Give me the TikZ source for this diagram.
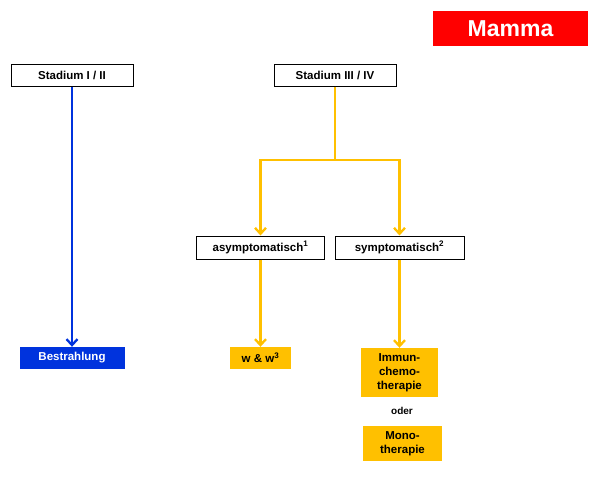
\documentclass[tikz,border=0pt]{standalone}
\usepackage{fontspec}
\setmainfont{Liberation Sans}
\usetikzlibrary{arrows.meta}
\definecolor{myblue}{RGB}{0,51,221}
\definecolor{myyellow}{RGB}{255,192,0}
\definecolor{myred}{RGB}{255,0,0}
\tikzset{
  box/.style={draw=black, line width=1pt, fill=white, inner sep=0pt, font=\fontsize{11.5}{13}\selectfont\bfseries, align=center},
  fbox/.style={inner sep=0pt, font=\fontsize{11.5}{14}\selectfont\bfseries, align=center},
  bluearr/.style={draw=myblue, line width=2.3pt, -{Straight Barb[length=6pt,width=11pt,line width=2.3pt]}},
  yelline/.style={draw=myyellow, line width=2.3pt},
  yelarr/.style={yelline, -{Straight Barb[length=6pt,width=11pt,line width=2.3pt]}}
}
\begin{document}
\begin{tikzpicture}[x=1pt,y=-1pt]
\useasboundingbox (0,0) rectangle (600,477);
\node[fill=myred, text=white, inner sep=0pt, minimum width=155pt, minimum height=35pt, font=\fontsize{23}{26}\selectfont\bfseries] (mamma) at (510.5,28.5) {Mamma};
\node[box, minimum width=122pt, minimum height=22pt] (s12) at (72,75) {Stadium I / II};
\node[box, minimum width=122pt, minimum height=22pt] (s34) at (335,75) {Stadium III / IV};
\node[box, minimum width=128pt, minimum height=23pt] (asym) at (260.5,247.5) {asymptomatisch$^{\mathbf{1}}$};
\node[box, minimum width=129pt, minimum height=23pt] (sym) at (399.5,247.5) {symptomatisch$^{\mathbf{2}}$};
\node[fbox, fill=myblue, text=white, minimum width=105pt, minimum height=22pt] (best) at (72,358) {Bestrahlung};
\node[fbox, fill=myyellow, minimum width=61pt, minimum height=22pt] (ww) at (260.5,358) {w \& w$^{\mathbf{3}}$};
\node[fbox, fill=myyellow, minimum width=77pt, minimum height=49pt] (immun) at (399.5,372.5) {Immun-\\chemo-\\therapie};
\node[inner sep=0pt, font=\fontsize{10}{12}\selectfont\bfseries] (oder) at (402,411) {oder};
\node[fbox, fill=myyellow, minimum width=79pt, minimum height=35pt] (mono) at (402.5,443.5) {Mono-\\therapie};
\coordinate (j) at (335,160);
\draw[bluearr] (s12.south) -- (best.north);
\draw[yelline] (s34.south) -- (j);
\draw[yelarr] (j) -| (asym.north);
\draw[yelarr] (j) -| (sym.north);
\draw[yelarr] (asym.south) -- (ww.north);
\draw[yelarr] (sym.south) -- (immun.north);
\end{tikzpicture}
\end{document}
